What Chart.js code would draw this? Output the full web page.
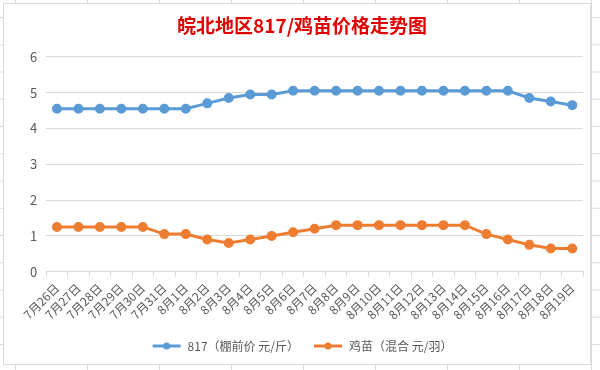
<!DOCTYPE html>
<html>
<head>
<meta charset="utf-8">
<script src="https://cdn.jsdelivr.net/npm/chart.js@4"></script>
<style>
  body {
    margin: 0;
    width: 600px;
    height: 370px;
    overflow: hidden;
    background-color: #fff;
    background-image: linear-gradient(to right, #dcdcdc 1px, transparent 1px),
                      linear-gradient(to bottom, #dcdcdc 1px, transparent 1px);
    background-size: 72px 100%, 100% 27.25px;
    background-position: 15px 0, 0 17px;
  }
  #box {
    position: absolute;
    left: 3px; top: 3px;
    width: 588px; height: 362px;
    box-sizing: border-box;
    border: 1px solid #d9d9d9;
    background: #fff;
  }
</style>
</head>
<body>
<div id="box"><canvas id="chart"></canvas></div>
<script>
const titleText = '皖北地区817/鸡苗价格走势图'

const dates = [
  '7月26日','7月27日','7月28日','7月29日','7月30日','7月31日',
  '8月1日','8月2日','8月3日','8月4日','8月5日','8月6日','8月7日','8月8日',
  '8月9日','8月10日','8月11日','8月12日','8月13日','8月14日','8月15日',
  '8月16日','8月17日','8月18日','8月19日'
]

const label817 = '817（棚前价 元/斤）'
const price817 = [
  4.55, 4.55, 4.55, 4.55, 4.55, 4.55, 4.55, 4.7, 4.85, 4.95, 4.95, 5.05,
  5.05, 5.05, 5.05, 5.05, 5.05, 5.05, 5.05, 5.05, 5.05, 5.05, 4.85, 4.75, 4.65
]

const labelChick = '鸡苗（混合 元/羽）'
const priceChick = [
  1.25, 1.25, 1.25, 1.25, 1.25, 1.05, 1.05, 0.9, 0.8, 0.9, 1.0, 1.1,
  1.2, 1.3, 1.3, 1.3, 1.3, 1.3, 1.3, 1.3, 1.05, 0.9, 0.75, 0.65, 0.65
]

const yTicks = [0, 1, 2, 3, 4, 5, 6]

const blue = '#5B9BD5'
const orange = '#ED7D31'
const grey = '#595959'
const gridGrey = '#D9D9D9'
const cjk = '"Noto Sans CJK SC", "Noto Sans", sans-serif'

// legend marker: short line with a dot in the middle
function legendMark(color){
  const c = document.createElement('canvas')
  c.width = 30
  c.height = 10
  const g = c.getContext('2d')
  g.strokeStyle = color
  g.lineWidth = 3
  g.beginPath()
  g.moveTo(1, 5)
  g.lineTo(29, 5)
  g.stroke()
  g.fillStyle = color
  g.beginPath()
  g.arc(15, 5, 3.5, 0, Math.PI * 2)
  g.fill()
  return c
}

function series(label, data, color){
  return {
    label, data,
    borderColor: color,
    backgroundColor: color,
    borderWidth: 3,
    pointRadius: 3.5,
    pointHoverRadius: 3.5,
    pointBackgroundColor: color,
    pointBorderColor: color,
    tension: 0,
    fill: false
  }
}

const ctx = document.getElementById('chart').getContext('2d')
const chart = new Chart(ctx, {
  type: 'line',
  data: {
    labels: dates,
    datasets: [series(label817, price817, blue), series(labelChick, priceChick, orange)]
  },
  options: {
    responsive: true,
    maintainAspectRatio: false,
    animation: false,
    layout: {padding: {left: 17, right: 7, top: 0, bottom: 2}},
    plugins: {
      title: {
        display: true,
        text: titleText,
        color: '#E00000',
        font: {family: cjk, size: 19, weight: 'bold'},
        padding: {top: 10, bottom: 20}
      },
      legend: {
        position: 'bottom',
        labels: {
          color: grey,
          font: {family: cjk, size: 12},
          usePointStyle: true,
          pointStyleWidth: 30,
          boxHeight: 10,
          padding: 14,
          generateLabels: ch => ch.data.datasets.map((d, i) => ({
            text: d.label,
            fillStyle: d.borderColor,
            strokeStyle: d.borderColor,
            fontColor: grey,
            lineWidth: 0,
            pointStyle: legendMark(d.borderColor),
            datasetIndex: i,
            hidden: false
          }))
        }
      },
      tooltip: {enabled: false}
    },
    scales: {
      x: {
        offset: true,
        grid: {
          offset: true,
          drawOnChartArea: false,
          drawTicks: true,
          tickLength: 5,
          color: gridGrey
        },
        border: {color: gridGrey},
        ticks: {
          color: grey,
          font: {family: cjk, size: 12},
          minRotation: 45,
          maxRotation: 45,
          autoSkip: false,
          padding: 4
        }
      },
      y: {
        min: yTicks[0],
        max: yTicks[yTicks.length - 1],
        afterBuildTicks: s => { s.ticks = yTicks.map(v => ({value: v})) },
        grid: {color: gridGrey, drawTicks: false},
        border: {display: false},
        ticks: {
          color: grey,
          font: {family: cjk, size: 13},
          padding: 9
        }
      }
    }
  }
})
</script>
</body>
</html>
